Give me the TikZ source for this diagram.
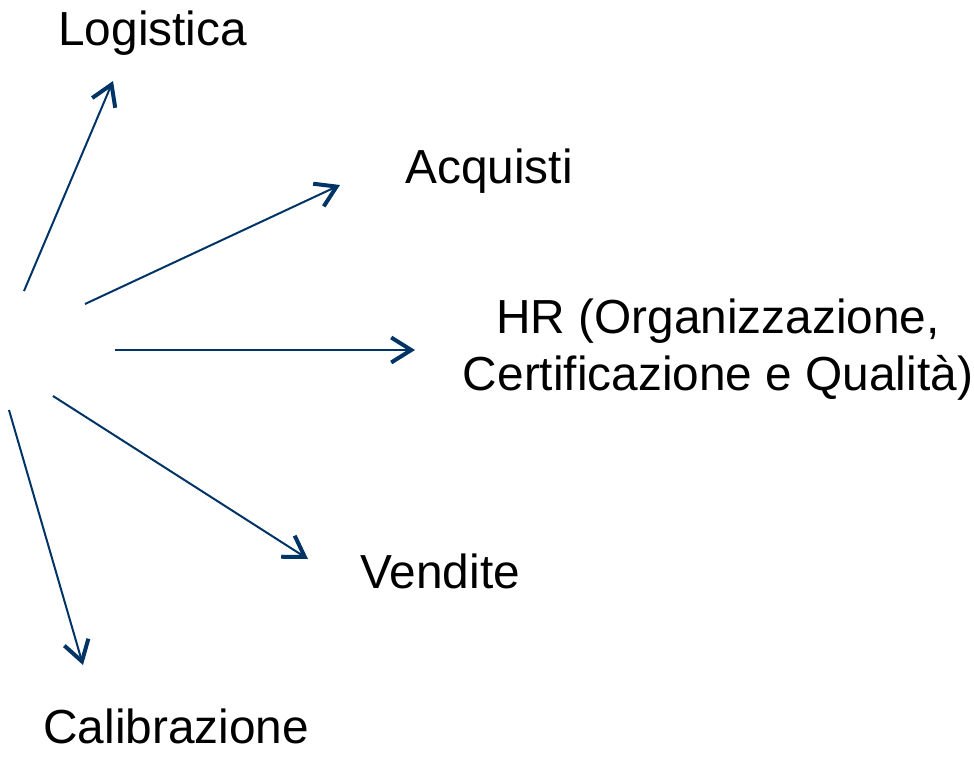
\documentclass[tikz,border=0pt]{standalone}
\usepackage{fontspec}
\setmainfont{Liberation Sans}
\usetikzlibrary{arrows.meta}
\definecolor{pfeilblau}{RGB}{0,52,102}
\begin{document}
\begin{tikzpicture}
  [x=0.5pt,y=-0.5pt,
   every node/.style={inner sep=0pt,anchor=base west,font=\fontsize{23.9}{28.5}\selectfont},
   pfeil/.style={draw=pfeilblau,line width=1pt,
     -{Straight Barb[length=10pt,width=12.5pt,line width=2pt]}}]
  \useasboundingbox (0,0) rectangle (974,760);
  \node (nlog) at (58,46)  {Logistica};
  \node (nacq) at (405,183) {Acquisti};
  \node[anchor=base,align=center] (nhr) at (718,390)
    {HR (Organizzazione,\\Certificazione e Qualità)};
  \node (nven) at (360,588) {Vendite};
  \node (ncal) at (43,743) {Calibrazione};

  \coordinate (s1) at (24,291);  \coordinate (e1) at (113,81);
  \coordinate (s2) at (85,304);  \coordinate (e2) at (340,185);
  \coordinate (s3) at (115,350); \coordinate (e3) at (415,350);
  \coordinate (s4) at (53,396);  \coordinate (e4) at (308,559);
  \coordinate (s5) at (9,410);   \coordinate (e5) at (83,665);

  \foreach \i in {1,...,5}
    \draw[pfeil] (s\i) -- (e\i);
\end{tikzpicture}
\end{document}
